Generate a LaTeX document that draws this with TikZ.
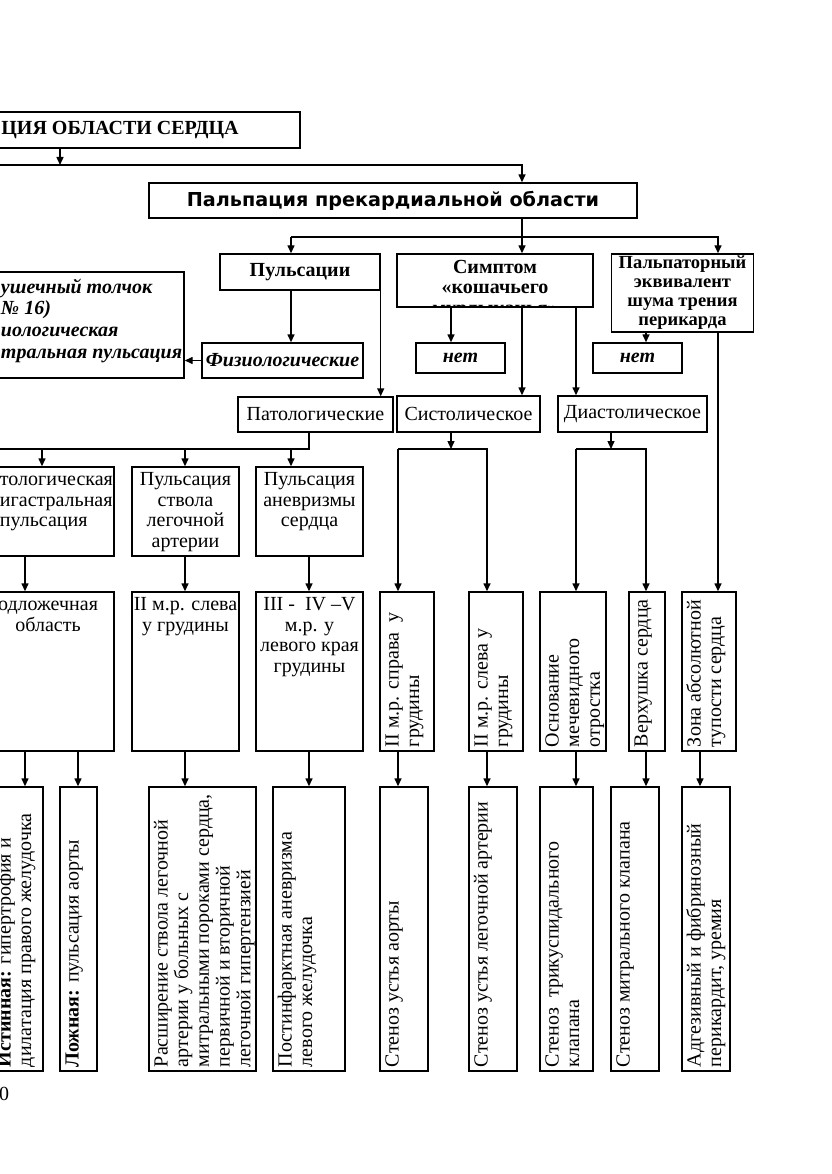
\documentclass[tikz,border=0pt]{standalone}
\usepackage{fontspec}
\setmainfont{Liberation Serif}
\newfontfamily\headfont{DejaVu Sans}
\usetikzlibrary{arrows.meta}

\newcommand{\bodysize}{\fontsize{20}{20.7}\selectfont}
% text set from the top of a box, centred
\newcommand{\topcell}[3]{\parbox[c][#2][t]{#1}{\centering\rule{0pt}{18.5pt}#3}}
% text of a turned box, from its lower end
\newcommand{\sidecell}[3]{\parbox[c][#2][t]{#1}{\raggedright\leftskip=4pt\rule{0pt}{18.5pt}#3}}

\tikzset{
  box/.style={draw, line width=1.4pt, inner sep=0pt, font=\bodysize},
  bbox/.style={box, font=\bodysize\bfseries},
  ibox/.style={box, font=\bodysize\bfseries\itshape},
  sidebox/.style={box, rotate=90},
  wire/.style={line width=1.4pt},
  arr/.style={line width=1.4pt, -{Triangle[length=8pt,width=7pt]}},
}

\begin{document}
\begin{tikzpicture}[x=1pt,y=-1pt]
  \useasboundingbox (0,0) rectangle (831,1174);
  \clip (0,0) rectangle (831,1174);

  % upper part
  \node[bbox, minimum width=360, minimum height=36] (title) at (120,130) {ЦИЯ ОБЛАСТИ СЕРДЦА};
  \node[box, font=\headfont\bfseries\fontsize{19.2}{20}\selectfont, minimum width=488, minimum height=35] (palp) at (393,200.5) {Пальпация прекардиальной области};
  \node[bbox, minimum width=160, minimum height=36] (puls) at (300,272) {Пульсации};
  \node[bbox, minimum width=196, minimum height=53,
    path picture={\node[anchor=north, inner sep=0pt, font=\bodysize\bfseries] (simptext)
      at (path picture bounding box.north) {\topcell{196pt}{62pt}{Симптом\\«кошачьего\\мурлыканья»}};}]
    (simp) at (495,280.5) {};
  \node[bbox, font=\bfseries\fontsize{18.5}{19}\selectfont, align=center, minimum width=142, minimum height=78] (peri) at (682.5,293) {Пальпаторный\\эквивалент\\шума трения\\перикарда};
  \node[box, font=\bfseries\itshape\fontsize{20}{21.7}\selectfont] (verh) at (82,325)
    {\parbox[c][106pt][t]{204pt}{\raggedright\leftskip=21pt\rule{0pt}{21pt}ушечный толчок\\№ 16)\\иологическая\\тральная пульсация}};
  \node[ibox, minimum width=161, minimum height=35] (fiz) at (282.5,360.5) {Физиологические};
  \node[ibox, minimum width=89, minimum height=30] (net1) at (460.5,358) {нет};
  \node[ibox, minimum width=89, minimum height=30] (net2) at (637.5,358) {нет};
  \node[box, minimum width=155, minimum height=35] (pat) at (315.5,414.5) {Патологические};
  \node[box, minimum width=143, minimum height=36] (sys) at (468.5,414) {Систолическое};
  \node[box, minimum width=149, minimum height=36] (dia) at (632.5,414) {Диастолическое};

  % first row
  \node[box] (epi) at (47,511.5) {\parbox[c][89pt][t]{134pt}{\raggedright\leftskip=20pt\rule{0pt}{18.5pt}тологическая\\игастральная\\пульсация}};
  \node[box] (stvol) at (185.5,511.5) {\topcell{107pt}{89pt}{Пульсация\\ствола\\легочной\\артерии}};
  \node[box] (anev) at (309.5,511.5) {\topcell{107pt}{89pt}{Пульсация\\аневризмы\\сердца}};

  % second row
  \node[box] (podl) at (48,671.5) {\topcell{132pt}{159pt}{одложечная\\область}};
  \node[box] (slev) at (185.5,671.5) {\topcell{107pt}{159pt}{II м.р. слева\\у грудины}};
  \node[box] (kraj) at (309.5,671.5) {\topcell{107pt}{159pt}{III -\ \ IV –V\\м.р. у\\левого края\\грудины}};
  \node[sidebox] (sprava) at (407,671.5) {\sidecell{159pt}{54pt}{II м.р. справа\ \ у\\грудины}};
  \node[sidebox] (sleva) at (496,671.5) {\sidecell{159pt}{54pt}{II м.р. слева у\\грудины}};
  \node[sidebox] (mech) at (573,671.5) {\sidecell{159pt}{66pt}{Основание\\мечевидного\\отростка}};
  \node[sidebox] (apex) at (647,671.5) {\sidecell{159pt}{36pt}{Верхушка сердца}};
  \node[sidebox] (zona) at (709,671.5) {\sidecell{159pt}{54pt}{Зона абсолютной\\тупости сердца}};

  % third row
  \node[sidebox] (ist) at (17.5,929) {\sidecell{284pt}{51pt}{\textbf{Истинная:} гипертрофия и\\дилатация правого желудочка}};
  \node[sidebox] (lozh) at (78.5,929) {\sidecell{284pt}{37pt}{\textbf{Ложная:} пульсация аорты}};
  \node[sidebox] (rassh) at (202.5,929) {\sidecell{284pt}{107pt}{Расширение ствола легочной\\артерии у больных с\\митральными пороками сердца,\\первичной и вторичной\\легочной гипертензией}};
  \node[sidebox] (postinf) at (309,929) {\sidecell{284pt}{72pt}{Постинфарктная аневризма\\левого желудочка}};
  \node[sidebox] (sten1) at (404,929) {\sidecell{284pt}{48pt}{Стеноз устья аорты}};
  \node[sidebox] (sten2) at (493,929) {\sidecell{284pt}{48pt}{Стеноз устья легочной артерии}};
  \node[sidebox] (sten3) at (566.5,929) {\sidecell{284pt}{53pt}{Стеноз\ \ трикуспидального\\клапана}};
  \node[sidebox] (sten4) at (635,929) {\sidecell{284pt}{48pt}{Стеноз митрального клапана}};
  \node[sidebox] (adg) at (706,929) {\sidecell{284pt}{48pt}{Адгезивный и фибринозный\\перикардит, уремия}};

  \node[anchor=west, inner sep=0pt, font=\bodysize] (pnum) at (-1,1094) {0};

  % columns and buses of the links
  \foreach \x in {25,42,60,78,185,291,309,398,451,487,522,576,611,646,700,718}
    \coordinate (k\x) at (\x,0);
  \coordinate (bus1) at (-5,165);
  \coordinate (bus2) at (0,237);
  \coordinate (bus3) at (-5,449);

  \begin{scope}
    \draw[arr] (title.south -| k60) -- (bus1 -| k60);
    \draw[arr] (bus1) -- (bus1 -| k522) -- (palp.north -| k522);
    \draw[arr] (palp.south -| k522) -- (simp.north -| k522);
    \draw[arr] (bus2 -| k291) -- (puls.north -| k291);
    \draw[arr] (bus2 -| k291) -- (bus2 -| k718) -- (peri.north -| k718);
    \draw[arr] (puls.south -| k291) -- (fiz.north -| k291);
    \draw[arr] (fiz.west) -- (fiz.west -| verh.east);
    \draw[arr] (puls.south east) -- (puls.south east |- pat.north);
    \draw[arr] (simp.south -| k451) -- (net1.north -| k451);
    \draw[arr] (simp.south -| k522) -- (sys.north -| k522);
    \draw[arr] (simp.south -| k576) -- (dia.north -| k576);
    \draw[arr] (peri.south -| k646) -- (net2.north -| k646);
    \draw[arr] (peri.south -| k718) -- (zona.east -| k718);

    \draw[wire] (pat.south -| k309) -- (bus3 -| k309) -- (bus3);
    \draw[arr] (bus3 -| k42) -- (epi.north -| k42);
    \draw[arr] (bus3 -| k185) -- (stvol.north -| k185);
    \draw[arr] (bus3 -| k291) -- (anev.north -| k291);
    \draw[arr] (sys.south -| k451) -- (bus3 -| k451);
    \draw[arr] (bus3 -| k398) -- (sprava.east -| k398);
    \draw[arr] (bus3 -| k398) -- (bus3 -| k487) -- (sleva.east -| k487);
    \draw[arr] (dia.south -| k611) -- (bus3 -| k611);
    \draw[arr] (bus3 -| k576) -- (mech.east -| k576);
    \draw[arr] (bus3 -| k576) -- (bus3 -| k646) -- (apex.east -| k646);

    \draw[arr] (epi.south -| k25) -- (podl.north -| k25);
    \draw[arr] (stvol.south -| k185) -- (slev.north -| k185);
    \draw[arr] (anev.south -| k309) -- (kraj.north -| k309);

    \draw[arr] (podl.south -| k25) -- (ist.east -| k25);
    \draw[arr] (podl.south -| k78) -- (lozh.east -| k78);
    \draw[arr] (slev.south -| k185) -- (rassh.east -| k185);
    \draw[arr] (kraj.south -| k309) -- (postinf.east -| k309);
    \draw[arr] (sprava.west -| k398) -- (sten1.east -| k398);
    \draw[arr] (sleva.west -| k487) -- (sten2.east -| k487);
    \draw[arr] (mech.west -| k576) -- (sten3.east -| k576);
    \draw[arr] (apex.west -| k646) -- (sten4.east -| k646);
    \draw[arr] (zona.west -| k700) -- (adg.east -| k700);
  \end{scope}
\end{tikzpicture}
\end{document}
